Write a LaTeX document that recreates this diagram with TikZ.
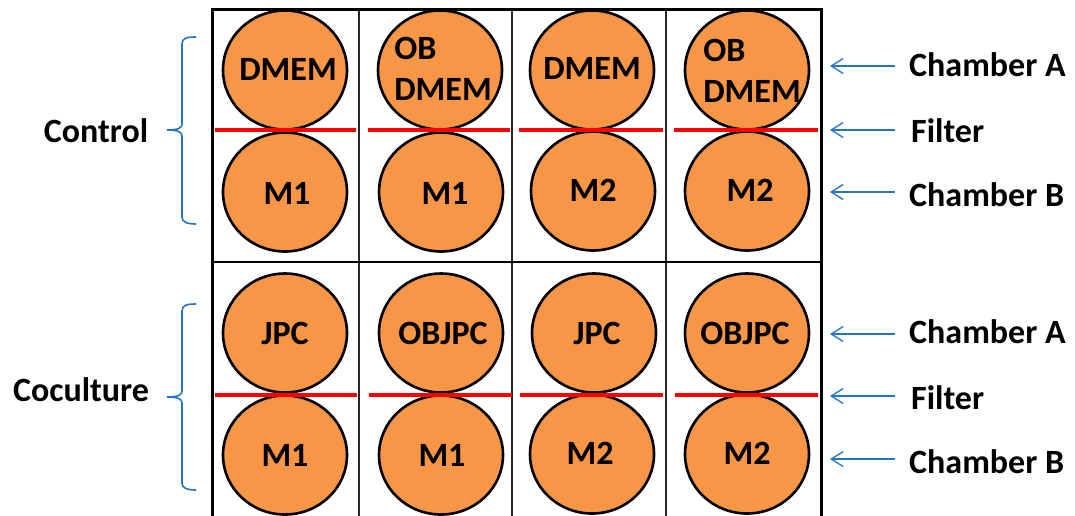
\documentclass[tikz,border=0pt]{standalone}
\usepackage{fontspec}
\setmainfont{Carlito}
\usetikzlibrary{shapes.geometric,arrows.meta}
\definecolor{cellorange}{RGB}{247,150,70}
\definecolor{lblblue}{RGB}{36,118,196}
\begin{document}
\begin{tikzpicture}[x=1pt,y=-1pt,
  cell/.style={ellipse,draw=black,line width=2.6pt,fill=cellorange,minimum width=124pt,minimum height=119pt,inner sep=0pt},
  celltext/.style={font=\bfseries\fontsize{34}{41}\selectfont,align=left,inner sep=0pt},
  filterline/.style={draw=red,line width=4.5pt},
  lbl/.style={font=\bfseries\fontsize{34}{41}\selectfont,inner sep=0pt},
  ptr/.style={draw=lblblue,line width=1.3pt,-{Straight Barb[length=12pt,width=15pt]}},
  brace/.style={draw=lblblue,line width=1.6pt}]
\useasboundingbox (0,0) rectangle (1075,515);
% grid
\draw[line width=1.1pt,black!85] (359,9) -- (359,520) (512,9) -- (512,520) (666,9) -- (666,520);
\draw[line width=1.6pt] (212,262) -- (821,262);
% circles top block
\node[cell] (a1) at (285,70) {};
\node[cell] (a2) at (440,70) {};
\node[cell] (a3) at (592,70) {};
\node[cell] (a4) at (747,70) {};
\node[cell] (b1) at (285,192) {};
\node[cell] (b2) at (441,192) {};
\node[cell] (b3) at (593,191) {};
\node[cell] (b4) at (747,191) {};
% circles bottom block
\node[cell] (c1) at (285,333) {};
\node[cell] (c2) at (441,333) {};
\node[cell] (c3) at (594,333) {};
\node[cell] (c4) at (747,333) {};
\node[cell] (d1) at (285,455) {};
\node[cell] (d2) at (441,455) {};
\node[cell] (d3) at (592,454) {};
\node[cell] (d4) at (747,454) {};
% texts in circles
\node[celltext] (ta1) at (288,69) {DMEM};
\node[celltext] (ta2) at (443,69) {OB\\DMEM};
\node[celltext] (ta3) at (592,68) {DMEM};
\node[celltext] (ta4) at (752,71) {OB\\DMEM};
\node[celltext] (tb1) at (287,193) {M1};
\node[celltext] (tb2) at (445,193) {M1};
\node[celltext] (tb3) at (593,190) {M2};
\node[celltext] (tb4) at (750,190) {M2};
\node[celltext] (tc1) at (285,333) {JPC};
\node[celltext] (tc2) at (443,333) {OBJPC};
\node[celltext] (tc3) at (597,333) {JPC};
\node[celltext] (tc4) at (745,333) {OBJPC};
\node[celltext] (td1) at (285,455) {M1};
\node[celltext] (td2) at (442,455) {M1};
\node[celltext] (td3) at (590,453) {M2};
\node[celltext] (td4) at (747,453) {M2};
% filters
\draw[filterline] (215,130) -- (356,130) (368,130) -- (510,130) (519,130) -- (663,130) (674,130) -- (818,130);
\draw[filterline] (215,395) -- (357,395) (369,395) -- (512,395) (520,395) -- (663,395) (675,395) -- (818,395);
% outer frame
\draw[line width=3pt] (212,530) -- (212,9) -- (821,9) -- (821,530);
% right labels
\node[lbl,anchor=west] (ca1) at (909,65) {Chamber A};
\node[lbl,anchor=west] (f1) at (911,131) {Filter};
\node[lbl,anchor=west] (cb1) at (909,195) {Chamber B};
\node[lbl,anchor=west] (ca2) at (909,332) {Chamber A};
\node[lbl,anchor=west] (f2) at (911,398) {Filter};
\node[lbl,anchor=west] (cb2) at (909,462) {Chamber B};
\coordinate (pa1) at (830,66);
\coordinate (pf1) at (830,130);
\coordinate (pb1) at (830,192);
\coordinate (pa2) at (830,334);
\coordinate (pf2) at (830,396);
\coordinate (pb2) at (830,459);
\draw[ptr] (895,66) -- (pa1);
\draw[ptr] (895,130) -- (pf1);
\draw[ptr] (895,192) -- (pb1);
\draw[ptr] (895,334) -- (pa2);
\draw[ptr] (895,396) -- (pf2);
\draw[ptr] (895,459) -- (pb2);
% left labels and braces
\node[lbl] (ctl) at (96,131) {Control};
\node[lbl] (coc) at (81,390) {Coculture};
\draw[brace] (196,37) .. controls (187,37) and (182,38) .. (182,44) -- (182,124)
  .. controls (182,128) and (178,130) .. (167,130)
  .. controls (178,130) and (182,132) .. (182,136) -- (182,217)
  .. controls (182,222) and (187,224) .. (196,224);
\draw[brace] (196,304) .. controls (187,304) and (182,305) .. (182,311) -- (182,391)
  .. controls (182,395) and (178,397) .. (167,397)
  .. controls (178,397) and (182,399) .. (182,403) -- (182,483)
  .. controls (182,488) and (187,490) .. (196,490);
\end{tikzpicture}
\end{document}
